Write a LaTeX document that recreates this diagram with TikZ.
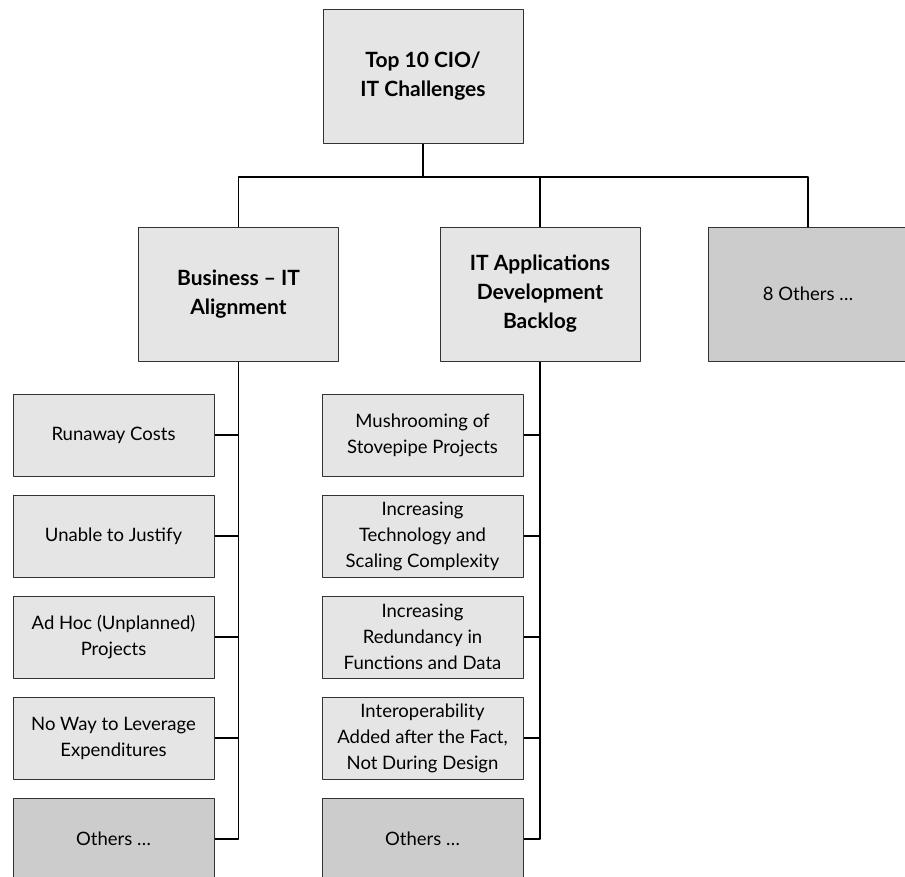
\documentclass[tikz,border=0pt]{standalone}
\usepackage{fontspec}
\setmainfont{Lato}
\begin{document}
\begin{tikzpicture}[x=1pt,y=-1pt,line join=round]
	\tikzset{every node/.style={font=\fontsize{18.5}{26}\selectfont},
		box/.style={draw=black!80,line width=1pt,fill=black!10,align=center,inner sep=0pt,minimum width=200pt,minimum height=134pt},
		leaf/.style={box,minimum width=201pt,minimum height=82pt},
		other/.style={fill=black!20},
		head/.style={font=\fontsize{21}{29}\selectfont\bfseries},
		link/.style={draw=black,line width=1.2pt}}
	\useasboundingbox (0,0) rectangle (905,876);
	\clip (0,0) rectangle (905,876);
	\node[box,head] (top) at (423,76) {Top 10 CIO/\\IT Challenges};
	\node[box,head] (align) at (238.5,294) {Business -- IT\\Alignment};
	\node[box,head] (apps) at (540,294) {IT Applications\\Development\\Backlog};
	\node[box,other] (rest) at (808,294) {8 Others \ldots};
	\draw[link,line width=1.6pt] (top.south) -- (top.south |- 0,177) coordinate (bus);
	\draw[link] (align.north) |- (bus) -| (rest.north);
	\draw[link] (apps.north) -- (apps.north |- bus);
	%Business - IT column
	\foreach \i/\t in {1/Runaway Costs,2/Unable to Justify,3/{Ad Hoc (Unplanned)\\Projects},4/{No Way to Leverage\\Expenditures}}
	\node[leaf] (a\i) at (113.5,{334+101*\i}) {\t};
	\node[leaf,other] (a5) at (113.5,839) {Others \ldots};
	\draw[link] (align.south) |- (a5.east);
	\foreach \i in {1,...,4}
	\draw[link] (a\i.east) -- (a\i.east -| align.south);
	%Applications column
	\foreach \i/\t in {1/{Mushrooming of\\Stovepipe Projects},2/{Increasing\\Technology and\\Scaling Complexity},3/{Increasing\\Redundancy in\\Functions and Data},4/{Interoperability\\Added after the Fact,\\Not During Design}}
	\node[leaf] (b\i) at (422.5,{334+101*\i}) {\t};
	\node[leaf,other] (b5) at (422.5,839) {Others \ldots};
	\draw[link] (apps.south) |- (b5.east);
	\foreach \i in {1,...,4}
	\draw[link] (b\i.east) -- (b\i.east -| apps.south);
\end{tikzpicture}
\end{document}
